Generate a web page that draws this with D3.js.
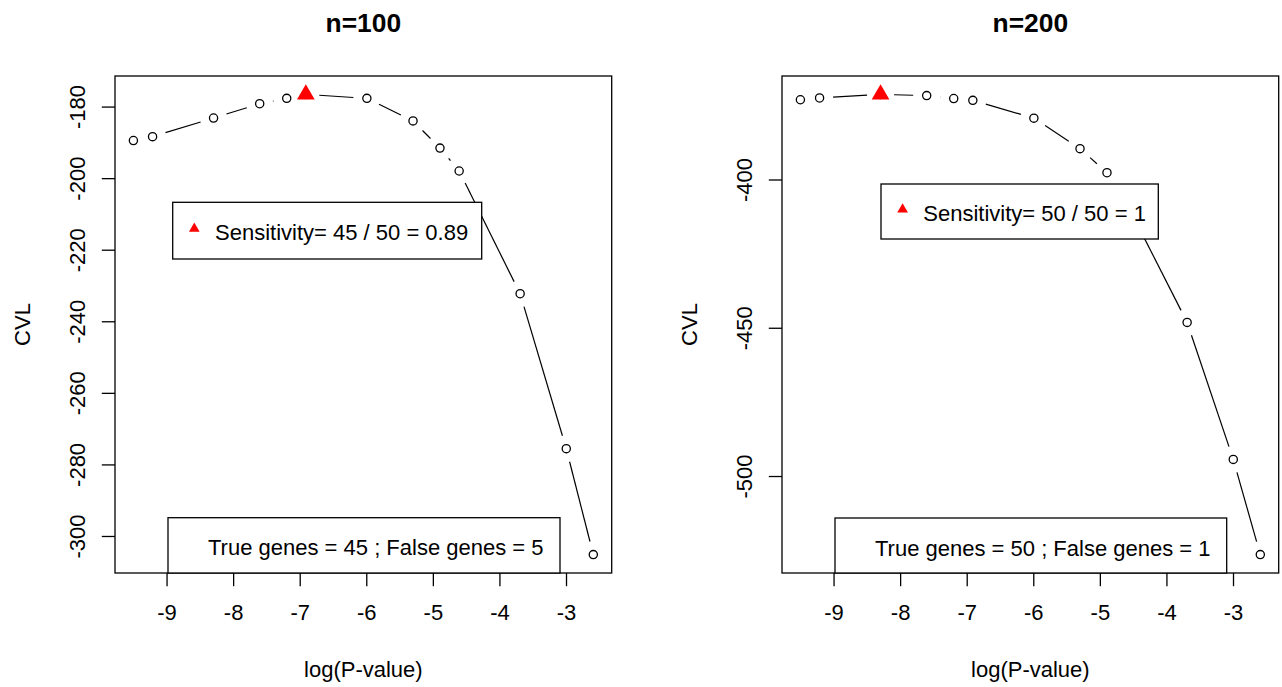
<!DOCTYPE html>
<html>
<head>
<meta charset="utf-8">
<script src="https://cdn.jsdelivr.net/npm/d3@7"></script>
<style>
  html, body { margin: 0; padding: 0; background: #ffffff; }
  svg { display: block; }
  text { font-family: "Liberation Sans", Arial, Helvetica, sans-serif; }
</style>
</head>
<body>
<svg id="chart" width="1282" height="687"></svg>
<script>
// ---------------- data ----------------
const logP = [-9.498, -9.210, -8.294, -7.601, -7.195, -6.908, -5.991, -5.298, -4.893, -4.605, -3.689, -2.996, -2.590];
const cvlN100 = [-189.5, -188.4, -183.2, -179.2, -177.7, -176.6, -177.7, -184.0, -191.6, -198.0, -232.3, -275.6, -305.2];
const cvlN200 = [-373.1, -372.5, -371.3, -371.7, -372.7, -373.3, -379.3, -389.6, -397.7, -407.7, -448.2, -494.4, -526.5];
const bestIndex = [5, 2];
const xTicks = [-9, -8, -7, -6, -5, -4, -3];
const yTicksN100 = [-300, -280, -260, -240, -220, -200, -180];
const yTicksN200 = [-500, -450, -400];
const titles = ["n=100", "n=200"];
const sensitivityLabels = ["Sensitivity= 45 / 50 = 0.89", "Sensitivity= 50 / 50 = 1"];
const geneLabels = ["True genes = 45 ; False genes = 5", "True genes = 50 ; False genes = 1"];
const xLabel = "log(P-value)";
const yLabel = "CVL";

// ---------------- layout ----------------
const FS = 22;
const panels = [
  { x0: 115, x1: 611.7, values: cvlN100, yTicks: yTicksN100,
    sens: { x: 172.7, y: 202.3, w: 309, h: 56.7 },
    genes: { x: 168, y: 517.7, w: 392, h: 55.3 } },
  { x0: 782, x1: 1278.7, values: cvlN200, yTicks: yTicksN200,
    sens: { x: 881, y: 184, w: 277.3, h: 55 },
    genes: { x: 835, y: 518, w: 391.7, h: 55 } }
];
const Y0 = 76, Y1 = 573;
const GAP = 13.5;

const svg = d3.select("#chart");

function rExtent(vals) {
  const [mn, mx] = d3.extent(vals);
  const e = (mx - mn) * 0.04;
  return [mn - e, mx + e];
}

function triPath(cx, cy, size) {
  const r = 1.555 * size, xc = 1.347 * size, yc = 0.778 * size;
  return `M${cx},${cy - r}L${cx + xc},${cy + yc}L${cx - xc},${cy + yc}Z`;
}

panels.forEach((p, i) => {
  const x = d3.scaleLinear().domain(rExtent(logP)).range([p.x0, p.x1]);
  const y = d3.scaleLinear().domain(rExtent(p.values)).range([Y1, Y0]);
  const g = svg.append("g");

  // line segments with gaps (R type = "b")
  const pts = logP.map((v, k) => [x(v), y(p.values[k])]);
  for (let k = 0; k < pts.length - 1; k++) {
    const [ax, ay] = pts[k], [bx, by] = pts[k + 1];
    const dx = bx - ax, dy = by - ay, L = Math.hypot(dx, dy);
    if (L <= 2 * GAP) continue;
    const ux = dx / L, uy = dy / L;
    g.append("line")
      .attr("x1", ax + ux * GAP).attr("y1", ay + uy * GAP)
      .attr("x2", bx - ux * GAP).attr("y2", by - uy * GAP)
      .attr("stroke", "#000").attr("stroke-width", 1.2);
  }

  // points
  g.selectAll("circle.pt").data(logP).join("circle")
    .attr("class", "pt")
    .attr("cx", d => x(d)).attr("cy", (d, k) => y(p.values[k]))
    .attr("r", 4.1).attr("fill", "none").attr("stroke", "#000").attr("stroke-width", 1.3);

  // best point (red triangle)
  const b = bestIndex[i];
  g.append("path")
    .attr("d", triPath(x(logP[b]), y(p.values[b]), 6.57))
    .attr("fill", "#ff0000");

  // axes
  const gx = g.append("g").attr("transform", `translate(0,${Y1})`)
    .call(d3.axisBottom(x).tickValues(xTicks).tickSize(13.2).tickSizeOuter(0).tickFormat(d => String(d)));
  gx.select(".domain").remove();
  gx.selectAll(".tick line").attr("stroke", "#000").attr("stroke-width", 1.3);
  gx.selectAll(".tick text").attr("y", 47).attr("dy", null)
    .attr("font-size", FS).attr("fill", "#000");

  const gy = g.append("g").attr("transform", `translate(${p.x0},0)`)
    .call(d3.axisLeft(y).tickValues(p.yTicks).tickSize(13.2).tickSizeOuter(0).tickFormat(d => String(d)));
  gy.select(".domain").remove();
  gy.selectAll(".tick line").attr("stroke", "#000").attr("stroke-width", 1.3);
  gy.selectAll(".tick text").attr("x", null).attr("dy", null)
    .attr("transform", "translate(-30,0) rotate(-90)")
    .attr("text-anchor", "middle")
    .attr("font-size", FS).attr("fill", "#000");
  gx.attr("font-family", null);
  gy.attr("font-family", null);

  // plot box
  g.append("rect")
    .attr("x", p.x0).attr("y", Y0).attr("width", p.x1 - p.x0).attr("height", Y1 - Y0)
    .attr("fill", "none").attr("stroke", "#000").attr("stroke-width", 1.3);

  // legends
  const s = p.sens;
  g.append("rect").attr("x", s.x).attr("y", s.y).attr("width", s.w).attr("height", s.h)
    .attr("fill", "#fff").attr("stroke", "#000").attr("stroke-width", 1.3);
  g.append("path").attr("d", triPath(s.x + 21.6, s.y + s.h / 2 - 2, 3.97)).attr("fill", "#ff0000");
  g.append("text").attr("x", s.x + 42.3).attr("y", s.y + s.h / 2 + 9)
    .attr("font-size", FS).attr("fill", "#000").text(sensitivityLabels[i]);

  const gn = p.genes;
  g.append("rect").attr("x", gn.x).attr("y", gn.y).attr("width", gn.w).attr("height", gn.h)
    .attr("fill", "#fff").attr("stroke", "#000").attr("stroke-width", 1.3);
  g.append("text").attr("x", gn.x + 40).attr("y", gn.y + gn.h / 2 + 10)
    .attr("font-size", FS).attr("fill", "#000").text(geneLabels[i]);

  // titles and axis labels
  const cx = (p.x0 + p.x1) / 2;
  g.append("text").attr("x", cx).attr("y", 32).attr("text-anchor", "middle")
    .attr("font-size", 26.4).attr("font-weight", "bold").attr("fill", "#000").text(titles[i]);
  g.append("text").attr("x", cx).attr("y", 677).attr("text-anchor", "middle")
    .attr("font-size", FS).attr("fill", "#000").text(xLabel);
  g.append("text").attr("transform", `translate(${p.x0 - 85},${(Y0 + Y1) / 2}) rotate(-90)`)
    .attr("text-anchor", "middle").attr("font-size", FS).attr("fill", "#000").text(yLabel);
});
</script>
</body>
</html>
